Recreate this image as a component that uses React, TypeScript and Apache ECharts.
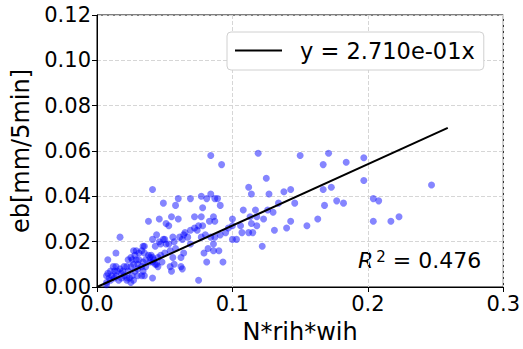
import React, { useEffect, useRef } from "react";
import * as echarts from "echarts";

const scatterX = [
  0.084, 0.092, 0.119, 0.150, 0.125, 0.112, 0.041, 0.114, 0.127, 0.138,
  0.143, 0.146, 0.134, 0.077, 0.084, 0.081, 0.087, 0.089, 0.091, 0.069,
  0.060, 0.058, 0.049, 0.078, 0.055, 0.046, 0.038, 0.060, 0.072, 0.077,
  0.086, 0.083, 0.087, 0.100, 0.108, 0.117, 0.126, 0.130, 0.123, 0.113,
  0.118, 0.143, 0.140, 0.131, 0.118, 0.112, 0.115, 0.107, 0.106, 0.100,
  0.097, 0.100, 0.103, 0.122, 0.095, 0.091, 0.087, 0.084, 0.080, 0.077,
  0.075, 0.078, 0.074, 0.072, 0.069, 0.065, 0.064, 0.061, 0.057, 0.056,
  0.053, 0.051, 0.049, 0.050, 0.047, 0.051, 0.053, 0.043, 0.041, 0.017,
  0.014, 0.008, 0.064, 0.062, 0.056, 0.057, 0.054, 0.055, 0.062, 0.063,
  0.075, 0.079, 0.081, 0.086, 0.086, 0.090, 0.093, 0.082, 0.041, 0.035,
  0.033, 0.044, 0.043, 0.045, 0.048, 0.171, 0.167, 0.184, 0.197, 0.197,
  0.167, 0.173, 0.168, 0.177, 0.182, 0.204, 0.208, 0.247, 0.155, 0.163,
  0.204, 0.217, 0.223, 0.114, 0.044, 0.046, 0.063, 0.067, 0.069, 0.058,
  0.054,
  0.027, 0.029, 0.034, 0.035, 0.033, 0.031, 0.028, 0.025, 0.023, 0.026,
  0.029, 0.031, 0.035, 0.038, 0.039, 0.040, 0.041, 0.042, 0.036, 0.034,
  0.030, 0.027, 0.025, 0.022, 0.020, 0.017, 0.015, 0.013, 0.010, 0.008,
  0.007, 0.009, 0.011, 0.014, 0.018, 0.020, 0.022, 0.024, 0.025, 0.022,
  0.018, 0.016, 0.013, 0.010, 0.007, 0.007, 0.028, 0.030, 0.033, 0.036,
  0.039, 0.041, 0.045, 0.047, 0.050, 0.023, 0.019, 0.026, 0.030, 0.027,
  0.034, 0.014, 0.012,
];

const scatterY = [
  0.058, 0.054, 0.059, 0.058, 0.048, 0.044, 0.043, 0.041, 0.041, 0.042,
  0.043, 0.037, 0.037, 0.040, 0.041, 0.039, 0.039, 0.039, 0.036, 0.039,
  0.039, 0.036, 0.037, 0.035, 0.031, 0.030, 0.029, 0.030, 0.031, 0.031,
  0.031, 0.029, 0.029, 0.030, 0.034, 0.034, 0.034, 0.033, 0.030, 0.031,
  0.031, 0.029, 0.026, 0.025, 0.027, 0.024, 0.024, 0.024, 0.027, 0.027,
  0.026, 0.021, 0.021, 0.018, 0.024, 0.023, 0.022, 0.022, 0.023, 0.022,
  0.027, 0.027, 0.025, 0.026, 0.025, 0.024, 0.023, 0.022, 0.020, 0.022,
  0.027, 0.028, 0.021, 0.021, 0.019, 0.019, 0.019, 0.018, 0.021, 0.022,
  0.015, 0.012, 0.015, 0.013, 0.013, 0.010, 0.009, 0.007, 0.009, 0.008,
  0.003, 0.015, 0.011, 0.019, 0.016, 0.016, 0.011, 0.017, 0.004, 0.005,
  0.005, 0.010, 0.010, 0.009, 0.011, 0.059, 0.054, 0.055, 0.057, 0.047,
  0.043, 0.044, 0.036, 0.038, 0.037, 0.039, 0.038, 0.045, 0.027, 0.030,
  0.029, 0.029, 0.031, 0.028, 0.023, 0.020, 0.021, 0.022, 0.019, 0.017,
  0.016,
  0.016, 0.016, 0.018, 0.018, 0.016, 0.015, 0.014, 0.013, 0.012, 0.012,
  0.012, 0.012, 0.015, 0.014, 0.013, 0.014, 0.013, 0.012, 0.012, 0.011,
  0.010, 0.010, 0.009, 0.009, 0.009, 0.008, 0.007, 0.007, 0.007, 0.006,
  0.005, 0.004, 0.005, 0.005, 0.006, 0.005, 0.004, 0.004, 0.002, 0.003,
  0.004, 0.003, 0.004, 0.003, 0.002, 0.001, 0.007, 0.008, 0.009, 0.009,
  0.011, 0.011, 0.013, 0.014, 0.015, 0.007, 0.007, 0.005, 0.005, 0.003,
  0.007, 0.009, 0.009,
];

const slope = 0.271;
const fitXMax = 0.259;
const fitLabel = "y = 2.710e-01x";
const r2Value = "0.476";
const xTicks = [0, 0.1, 0.2, 0.3];
const yTicks = [0, 0.02, 0.04, 0.06, 0.08, 0.1, 0.12];

const FONT = "DejaVu Sans";

export default function App() {
  const ref = useRef<HTMLDivElement>(null);
  useEffect(() => {
    if (!ref.current) return;
    const chart = echarts.init(ref.current, null, { renderer: "svg" });
    const points = scatterX.map((x, i) => [x, scatterY[i]]);
    const fit = [
      [0, 0],
      [fitXMax, slope * fitXMax],
    ];
    const gridLine = { show: true, lineStyle: { color: "#d6d6d6", type: [4, 2], width: 1 } };
    chart.setOption({
      animation: false,
      backgroundColor: "#fff",
      textStyle: { fontFamily: FONT },
      grid: {
        left: 97,
        right: 18,
        top: 15,
        bottom: 61,
        show: true,
        borderColor: "#000",
        borderWidth: 1,
        backgroundColor: "transparent",
      },
      xAxis: {
        type: "value",
        min: xTicks[0],
        max: xTicks[xTicks.length - 1],
        interval: 0.1,
        name: "N*rih*wih",
        nameLocation: "middle",
        nameGap: 33,
        nameTextStyle: { fontSize: 24, color: "#000", fontFamily: FONT },
        axisLine: { show: true, lineStyle: { color: "#000", width: 1 } },
        axisTick: { show: true, length: 5, lineStyle: { color: "#000" } },
        axisLabel: {
          fontSize: 21,
          color: "#000",
          margin: 6,
          fontFamily: FONT,
          formatter: (v: number) => v.toFixed(1),
        },
        splitLine: gridLine,
      },
      yAxis: {
        type: "value",
        min: yTicks[0],
        max: yTicks[yTicks.length - 1],
        interval: 0.02,
        name: "eb[mm/5min]",
        nameLocation: "middle",
        nameGap: 63,
        nameTextStyle: { fontSize: 24, color: "#000", fontFamily: FONT },
        axisLine: { show: true, lineStyle: { color: "#000", width: 1 } },
        axisTick: { show: true, length: 5, lineStyle: { color: "#000" } },
        axisLabel: {
          fontSize: 21,
          color: "#000",
          margin: 6,
          fontFamily: FONT,
          formatter: (v: number) => v.toFixed(2),
        },
        splitLine: gridLine,
      },
      legend: {
        left: 227,
        top: 32,
        data: [{ name: fitLabel, icon: "rect" }],
        backgroundColor: "#fff",
        borderColor: "#d0d0d0",
        borderWidth: 1,
        borderRadius: 4,
        padding: [7, 9, 8, 8],
        itemWidth: 47,
        itemHeight: 2,
        itemStyle: { color: "#000" },
        textStyle: { fontSize: 22.5, color: "#000", fontFamily: FONT, padding: [0, 0, 0, 13] },
      },
      series: [
        {
          type: "scatter",
          data: points,
          symbolSize: 7,
          itemStyle: { color: "rgba(0,0,255,0.6)" },
          z: 2,
        },
        {
          type: "line",
          name: fitLabel,
          data: fit,
          showSymbol: false,
          symbol: "none",
          lineStyle: { color: "#000", width: 2 },
          itemStyle: { color: "#000" },
          z: 3,
        },
      ],
      graphic: [
        {
          type: "text",
          left: 358,
          top: 249,
          style: {
            text: "{r|R}{s|2}{n| = " + r2Value + "}",
            rich: {
              r: { fontSize: 22, fontStyle: "italic", fontFamily: FONT, fill: "#000", verticalAlign: "bottom" },
              s: { fontSize: 15, fontFamily: FONT, fill: "#000", verticalAlign: "top", padding: [0, 0, 0, 3] },
              n: { fontSize: 22, fontFamily: FONT, fill: "#000", verticalAlign: "bottom" },
            },
          },
        },
      ],
    });
    return () => chart.dispose();
  }, []);
  return <div ref={ref} style={{ width: 523, height: 349, position: "absolute", left: 0, top: 0 }} />;
}
